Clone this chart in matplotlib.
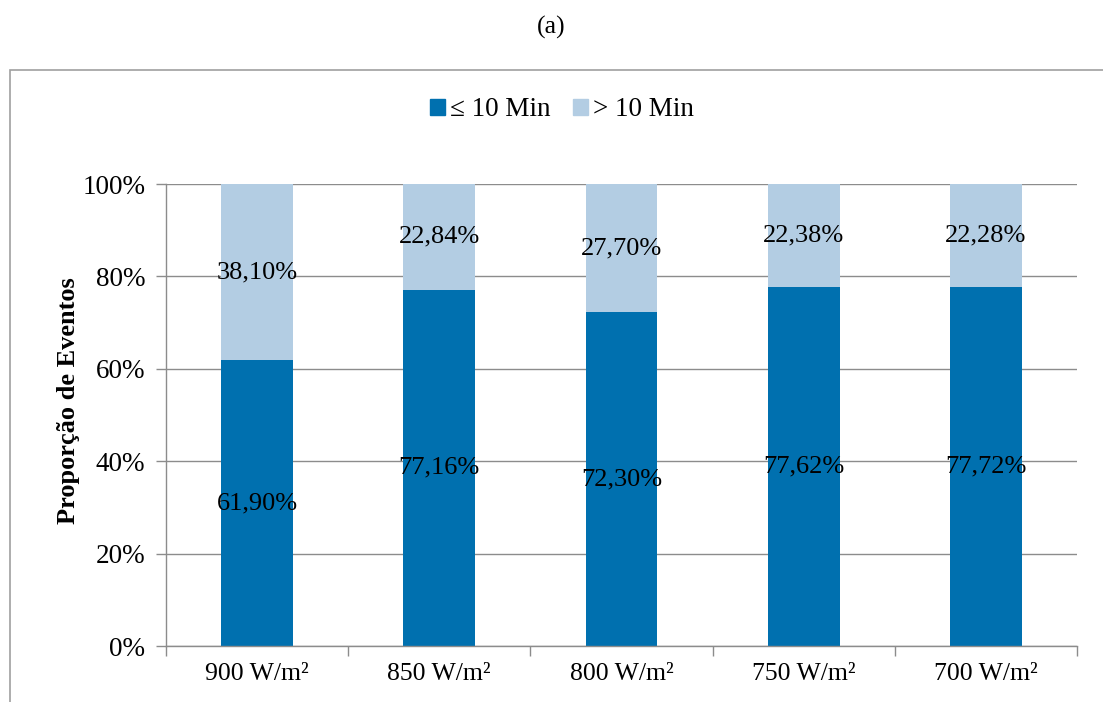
import matplotlib
matplotlib.use("Agg")
import matplotlib.pyplot as plt
from matplotlib.patches import Rectangle, Patch

categories = ["900 W/m²", "850 W/m²", "800 W/m²", "750 W/m²", "700 W/m²"]
le10 = [61.90, 77.16, 72.30, 77.62, 77.72]
gt10 = [38.10, 22.84, 27.70, 22.38, 22.28]
series_names = ["≤ 10 Min", "> 10 Min"]
yticks = [0, 20, 40, 60, 80, 100]

dark = "#0070AF"
light = "#B3CDE3"
grey = "#8C8C8C"

plt.rcParams['font.family'] = ['Liberation Serif', 'DejaVu Serif']

W, H = 1103, 702
fig = plt.figure(figsize=(W / 100, H / 100), dpi=100)
ax = fig.add_axes([166 / W, 1 - 646 / H, (1077 - 166) / W, (646 - 184) / H])

# outer frame (extends past right/bottom edges)
fig.patches.append(Rectangle((10 / W, -0.05), 1.2, (702 - 70) / H + 0.05,
                             transform=fig.transFigure, fill=False,
                             edgecolor="#A0A0A0", lw=1.2))

fig.text(0.5, 1 - 27 / H, "(a)", ha="center", va="center", fontsize=18.5)

x = list(range(len(categories)))
bw = 0.395
ax.bar(x, le10, bw, color=dark, label=series_names[0], zorder=2)
ax.bar(x, gt10, bw, bottom=le10, color=light, label=series_names[1], zorder=2)

def fmt(v):
    return f"{v:.2f}".replace(".", ",") + "%"

for i in x:
    ax.text(i, le10[i] / 2, fmt(le10[i]), ha="center", va="center", fontsize=19, zorder=3)
    ax.text(i, le10[i] + gt10[i] / 2, fmt(gt10[i]), ha="center", va="center", fontsize=19, zorder=3)

ax.set_xlim(-0.5, len(categories) - 0.5)
ax.set_ylim(0, 100)
ax.set_yticks(yticks)
ax.set_yticklabels([f"{t}%" for t in yticks], fontsize=19.5)
ax.yaxis.grid(True, color=grey, lw=1, zorder=0)
ax.set_axisbelow(True)

ax.set_xticks(x)
ax.set_xticklabels(categories, fontsize=18.5)
ax.tick_params(axis="x", length=0, pad=12)
ax.set_xticks([i - 0.5 for i in range(len(categories) + 1)], minor=True)
ax.tick_params(axis="x", which="minor", length=7, color=grey, width=1)
ax.tick_params(axis="y", length=7, color=grey, width=1, pad=8)

for s in ["top", "right"]:
    ax.spines[s].set_visible(False)
for s in ["left", "bottom"]:
    ax.spines[s].set_color(grey)
    ax.spines[s].set_linewidth(1)

fig.text(69 / W, 1 - 401 / H, "Proporção de Eventos", rotation=90,
         ha="center", va="center", fontsize=19, fontweight="bold")

handles = [Patch(color=dark), Patch(color=light)]
fig.legend(handles, series_names, loc="center", bbox_to_anchor=(562 / W, 1 - 110 / H),
           ncol=2, frameon=False, fontsize=19.5, handlelength=0.55, handleheight=0.55,
           handletextpad=0.2, columnspacing=0.8)

fig.savefig("out.png", dpi=100)
